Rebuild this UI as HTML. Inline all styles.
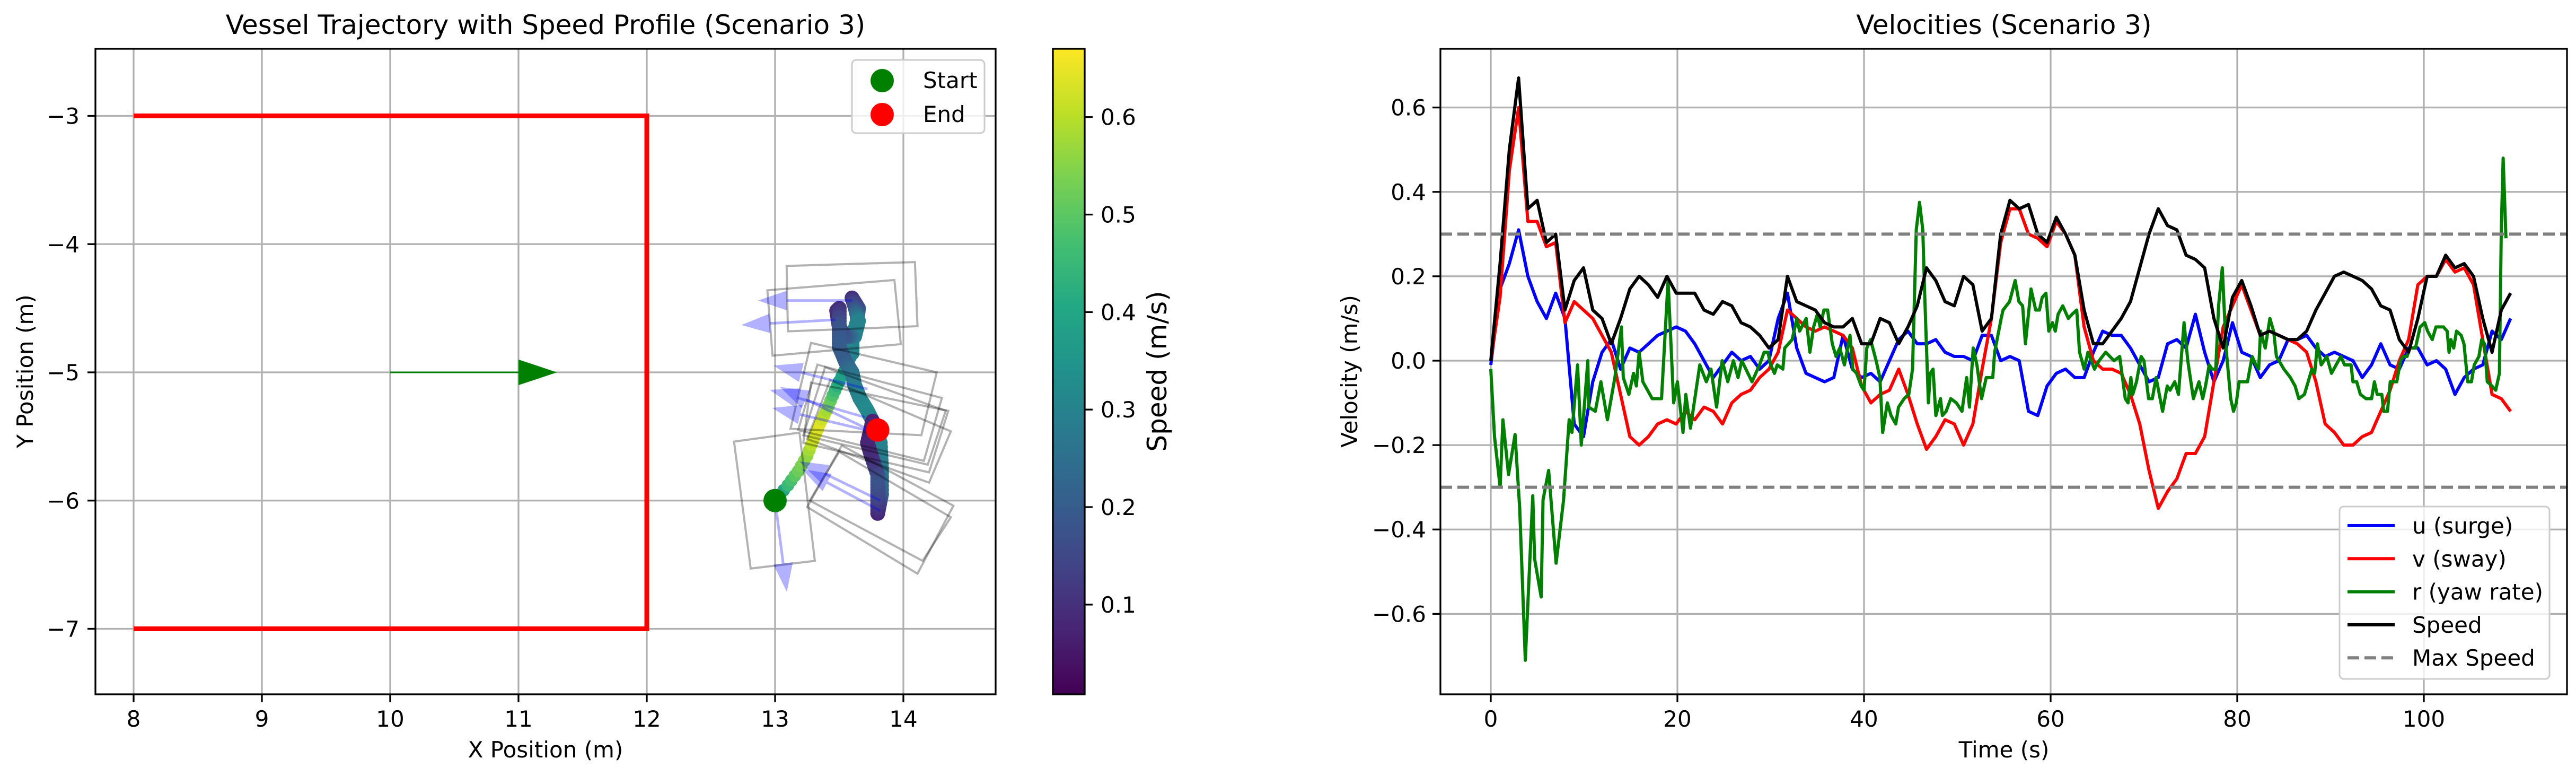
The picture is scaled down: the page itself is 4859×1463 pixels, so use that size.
<!DOCTYPE html>
<html><head><meta charset="utf-8"><style>
html,body{margin:0;padding:0;background:#fff;}
svg{display:block;font-family:"DejaVu Sans","Liberation Sans",sans-serif;}
</style></head><body>
<svg id="fig" width="4859" height="1463" viewBox="0 0 4859 1463" xmlns="http://www.w3.org/2000/svg">
<defs>
<linearGradient id="viridis" x1="0" y1="1" x2="0" y2="0">
<stop offset="0" stop-color="#440154"/><stop offset="0.1" stop-color="#482475"/><stop offset="0.2" stop-color="#414487"/><stop offset="0.3" stop-color="#355f8d"/><stop offset="0.4" stop-color="#2a788e"/><stop offset="0.5" stop-color="#21918c"/><stop offset="0.6" stop-color="#22a884"/><stop offset="0.7" stop-color="#44bf70"/><stop offset="0.8" stop-color="#7ad151"/><stop offset="0.9" stop-color="#bddf26"/><stop offset="1" stop-color="#fde725"/>
</linearGradient>
<clipPath id="clipL"><rect x="180" y="92" width="1698" height="1217"/></clipPath>
<clipPath id="clipR"><rect x="2717" y="92" width="2125" height="1217"/></clipPath>
</defs>
<g id="left"></g>
<g id="cbar"></g>
<g id="right"></g>
</svg>
<script>
// ---------- Trajectory data ----------
const boundaryX = [8, 12, 12, 8];
const boundaryY = [-3, -3, -7, -7];
const trajX = [13,13.1,13.18,13.25,13.3,13.35,13.4,13.45,13.5,13.56,13.6,13.6,13.64,13.65,13.6,13.62,13.65,13.62,13.55,13.5,13.48,13.5,13.5,13.5,13.55,13.6,13.62,13.66,13.72,13.78,13.82,13.83,13.83,13.8,13.8,13.8,13.75,13.72,13.76,13.8];
const trajY = [-6,-5.88,-5.77,-5.65,-5.52,-5.4,-5.3,-5.18,-5.07,-4.95,-4.85,-4.75,-4.6,-4.5,-4.42,-4.48,-4.6,-4.72,-4.72,-4.65,-4.52,-4.5,-4.65,-4.8,-4.92,-5.0,-5.1,-5.2,-5.3,-5.42,-5.55,-5.75,-5.95,-6.1,-5.95,-5.8,-5.65,-5.55,-5.38,-5.45];
const trajSpeed = [0.3,0.45,0.52,0.56,0.62,0.64,0.58,0.48,0.4,0.35,0.3,0.3,0.32,0.2,0.1,0.15,0.3,0.3,0.2,0.15,0.08,0.1,0.18,0.2,0.2,0.25,0.28,0.3,0.32,0.3,0.3,0.28,0.22,0.08,0.15,0.18,0.1,0.08,0.07,0.1];
const boxes = [
 [[13.09,-4.17],[14.09,-4.14],[14.11,-4.64],[13.10,-4.68]],
 [[12.94,-4.36],[13.93,-4.28],[13.98,-4.78],[12.98,-4.87]],
 [[13.28,-4.77],[14.26,-5.0],[14.14,-5.49],[13.12,-5.44]],
 [[13.33,-4.94],[14.3,-5.2],[14.16,-5.69],[13.18,-5.45]],
 [[13.39,-4.96],[14.33,-5.3],[14.19,-5.72],[13.22,-5.49]],
 [[13.43,-5.06],[14.37,-5.46],[14.2,-5.86],[13.25,-5.52]],
 [[13.28,-5.08],[14.35,-5.3],[14.2,-5.78],[13.22,-5.55]],
 [[12.68,-5.54],[13.19,-5.47],[13.31,-6.47],[12.81,-6.53]],
 [[13.25,-6.05],[13.52,-5.57],[14.39,-6.04],[14.11,-6.57]],
 [[13.27,-6.0],[13.5,-5.62],[14.37,-6.13],[14.15,-6.47]]
];
const arrowTail = [[13.6,-4.44],[13.47,-4.59],[13.72,-5.13],[13.7,-5.35],[13.8,-5.48],[13.75,-5.46],[13.0,-6.0],[13.82,-6.0],[13.82,-6.08]];
const arrowTip  = [[12.88,-4.44],[12.75,-4.63],[13.0,-4.95],[12.97,-5.14],[13.05,-5.12],[12.99,-5.28],[13.09,-6.7],[13.2,-5.7],[13.22,-5.76]];
const startPt = [13, -6];
const endPt = [13.8, -5.45];
const xTicksL = [8,9,10,11,12,13,14];
const yTicksL = [-3,-4,-5,-6,-7];
const cbTicks = [0.1,0.2,0.3,0.4,0.5,0.6];

// ---------- Velocity data ----------
const dt = 0.9936;
const uVals = [-0.01,0.17,0.23,0.31,0.2,0.14,0.1,0.16,0.1,-0.15,-0.18,-0.05,0.02,0.05,-0.02,0.03,0.02,0.04,0.06,0.07,0.08,0.07,0.04,0.0,-0.04,-0.01,0.02,0.0,0.01,-0.02,0.0,0.1,0.16,0.03,-0.03,-0.04,-0.05,-0.04,0.06,-0.02,-0.04,-0.03,-0.05,0.0,0.05,0.07,0.04,0.04,0.05,0.02,0.01,0.01,0.0,0.06,0.06,0.0,0.01,0.0,-0.12,-0.13,-0.06,-0.03,-0.02,-0.04,-0.04,0.02,0.07,0.06,0.06,0.03,-0.01,-0.05,-0.04,0.04,0.05,0.03,0.11,0.02,-0.05,0.0,0.09,0.02,0.01,-0.04,-0.01,0.0,0.05,0.05,0.06,0.03,0.01,0.02,0.01,0.0,-0.04,-0.01,0.04,-0.01,-0.02,0.03,0.03,-0.01,0.0,-0.02,-0.08,-0.04,-0.02,-0.01,0.07,0.05,0.1];
const vVals = [0,0.15,0.45,0.6,0.33,0.33,0.27,0.28,0.09,0.14,0.12,0.1,0.06,0.02,-0.08,-0.18,-0.2,-0.18,-0.15,-0.14,-0.15,-0.12,-0.14,-0.11,-0.12,-0.15,-0.1,-0.08,-0.07,-0.04,-0.02,0.02,0.12,0.1,0.08,0.07,0.08,0.07,0.06,0.03,-0.06,-0.1,-0.08,-0.07,-0.02,-0.08,-0.15,-0.21,-0.18,-0.14,-0.15,-0.2,-0.15,-0.02,0.1,0.28,0.36,0.36,0.3,0.29,0.27,0.33,0.3,0.25,0.08,0.0,-0.02,-0.02,-0.03,-0.08,-0.15,-0.26,-0.35,-0.31,-0.28,-0.22,-0.22,-0.18,-0.05,0.08,0.13,0.18,0.12,0.06,0.07,0.06,0.05,0.04,0.02,-0.05,-0.15,-0.17,-0.2,-0.2,-0.18,-0.17,-0.12,-0.07,0.0,0.05,0.18,0.2,0.2,0.24,0.21,0.22,0.18,0.05,-0.08,-0.09,-0.12];
const speedVals = [0.0,0.23,0.5,0.67,0.36,0.38,0.28,0.3,0.12,0.19,0.22,0.12,0.1,0.04,0.1,0.17,0.2,0.18,0.15,0.2,0.16,0.16,0.16,0.12,0.11,0.14,0.13,0.09,0.08,0.06,0.03,0.05,0.2,0.14,0.13,0.12,0.09,0.08,0.08,0.1,0.04,0.04,0.1,0.09,0.04,0.08,0.13,0.22,0.19,0.14,0.13,0.2,0.18,0.07,0.1,0.3,0.38,0.36,0.37,0.3,0.28,0.34,0.3,0.25,0.12,0.04,0.04,0.07,0.1,0.14,0.22,0.3,0.36,0.32,0.31,0.25,0.24,0.22,0.1,0.03,0.15,0.19,0.13,0.06,0.07,0.06,0.05,0.05,0.07,0.12,0.16,0.2,0.21,0.2,0.19,0.17,0.13,0.12,0.05,0.02,0.1,0.2,0.2,0.25,0.22,0.23,0.2,0.1,0.02,0.12,0.16];
const rTimes = [0,0.4,1.0,1.3,1.9,2.6,3.1,3.7,4.5,4.7,5.4,5.6,6.2,7.0,7.8,8.4,8.7,9.3,9.7,10.4,10.5,11.2,11.8,12.5,13.3,14.0,14.2,14.8,15.3,15.6,15.9,16.3,17.3,18.3,19.0,19.6,20.0,20.6,20.9,21.4,22.4,23.1,23.6,24.2,24.8,25.4,26.0,26.5,26.9,28.0,28.8,29.3,29.7,30,30.4,30.7,31.3,31.5,32.3,32.8,33.1,33.8,34.2,34.6,35.0,35.3,35.7,36.1,36.6,37.0,37.4,37.9,38.5,38.8,39.2,39.7,40.0,40.3,40.7,41.3,41.7,42.0,42.5,42.9,43.4,43.7,44.3,44.8,45.2,45.6,45.95,46.3,46.5,46.9,47.1,47.4,47.7,48.2,48.4,48.8,49.3,49.9,50.5,51.0,51.3,51.7,52.1,52.6,53.1,53.8,54.0,54.7,54.9,55.6,56.2,56.6,57.0,57.3,57.9,58.4,58.8,59.1,59.5,59.8,60.2,60.5,60.8,61.3,61.9,62.3,62.8,63.1,63.6,64.0,64.7,65.2,65.9,66.8,67.4,68.0,68.3,68.6,68.8,69.2,69.7,70.0,70.5,70.9,71.3,72.0,72.5,72.8,73.3,73.7,74.3,74.7,75.3,75.9,76.3,76.6,77.0,77.3,77.7,78.0,78.4,78.8,79.3,79.6,79.9,80.2,80.6,81.1,81.6,82.0,82.3,82.5,83.0,83.5,83.9,84.2,85.0,85.7,86.2,86.6,87.2,87.6,88.0,88.3,88.6,89.0,89.6,90.1,90.6,91.1,91.5,92.2,92.4,92.8,93.2,93.8,94.4,94.7,95.0,95.5,95.7,96.1,96.4,97.1,97.5,97.8,98.2,98.5,99.1,99.6,100.1,100.4,100.9,101.3,102.1,102.5,102.7,102.9,103.2,103.5,104.0,104.3,104.7,105.1,105.4,105.9,106.2,106.5,106.8,107.3,107.7,108.1,108.3,108.5,108.8];
const rVals = [-0.02,-0.18,-0.30,-0.14,-0.27,-0.175,-0.35,-0.71,-0.32,-0.47,-0.56,-0.33,-0.26,-0.48,-0.33,-0.14,-0.17,-0.01,-0.2,0.0,-0.11,-0.12,-0.05,-0.14,-0.04,0.08,-0.04,-0.08,-0.03,-0.06,0.02,-0.05,-0.09,-0.09,0.19,-0.1,-0.05,-0.17,-0.08,-0.16,-0.01,-0.05,-0.02,-0.11,0.0,-0.05,0.0,-0.04,0.0,-0.05,-0.01,0.02,0.02,-0.01,-0.03,-0.01,-0.02,0.03,0.05,0.1,0.07,0.1,0.02,0.08,0.11,0.08,0.12,0.12,0.04,0.01,0.03,-0.01,0.06,-0.02,-0.03,-0.06,-0.07,0.03,0.05,0.0,-0.04,-0.17,-0.1,-0.13,-0.15,-0.11,-0.09,-0.08,-0.02,0.31,0.375,0.31,0.16,-0.1,-0.03,-0.02,-0.13,-0.09,-0.13,-0.12,-0.09,-0.1,-0.12,-0.04,-0.11,0.03,-0.01,-0.09,-0.04,-0.04,0.02,0.1,0.12,0.14,0.19,0.14,0.13,0.04,0.17,0.12,0.12,0.15,0.16,0.07,0.09,0.07,0.11,0.13,0.1,0.11,0.12,0.02,-0.02,0.02,-0.02,0.0,0.02,0.0,0.01,-0.09,-0.1,-0.04,-0.08,-0.05,0.01,0.0,-0.09,-0.09,-0.04,-0.12,-0.06,-0.07,-0.05,-0.08,0.09,0.0,-0.09,-0.05,-0.09,-0.06,-0.01,-0.02,-0.02,0.13,0.22,0.03,-0.09,-0.12,-0.1,-0.05,-0.05,-0.05,0.01,-0.01,-0.02,0.07,0.03,0.1,0.07,0.01,-0.02,-0.04,-0.06,-0.09,-0.08,-0.05,-0.02,-0.03,0.04,-0.01,0.01,-0.03,-0.01,0.01,-0.01,-0.01,-0.05,-0.05,-0.08,-0.09,-0.09,-0.05,-0.08,-0.08,-0.12,-0.12,-0.05,-0.05,0.0,0.01,0.01,0.03,0.03,0.08,0.09,0.07,0.05,0.08,0.08,0.07,0.02,0.05,0.03,0.07,0.06,0.04,-0.05,-0.05,-0.01,0.01,0.05,0.04,-0.05,-0.06,-0.07,-0.03,0.31,0.48,0.29];
const maxSpeed = 0.3;
const xTicksR = [0,20,40,60,80,100];
const yTicksR = [-0.6,-0.4,-0.2,0.0,0.2,0.4,0.6];

// ---------- helpers ----------
const NS = 'http://www.w3.org/2000/svg';
function mk(tag, attrs, parent){ const e=document.createElementNS(NS,tag); for(const k in attrs) e.setAttribute(k,attrs[k]); parent.appendChild(e); return e; }
const LX = x => 252 + (x-8)*242;
const LY = y => 218.5 + (-3-y)*241.75;
const RX = t => 2812 + t*17.6;
const RY = v => 680 - v*795.6;
const CY = s => 1309 - (s-0.008)/0.662*1217;
const vir = ['#440154','#482475','#414487','#355f8d','#2a788e','#21918c','#22a884','#44bf70','#7ad151','#bddf26','#fde725'];
function hex(h){return [parseInt(h.substr(1,2),16),parseInt(h.substr(3,2),16),parseInt(h.substr(5,2),16)];}
function viridis(s){ let t=(s-0.008)/0.662; t=Math.max(0,Math.min(1,t)); const p=t*10; const i=Math.min(9,Math.floor(p)); const f=p-i; const a=hex(vir[i]), b=hex(vir[i+1]); return 'rgb('+a.map((c,k)=>Math.round(c+(b[k]-c)*f)).join(',')+')'; }

const L = document.getElementById('left');
const R = document.getElementById('right');
const C = document.getElementById('cbar');

// ---------- LEFT PLOT ----------
let e;
const gridL = mk('g',{},L);


xTicksL.forEach(x=>{ e=mk('line',{x1:LX(x),x2:LX(x),y1:92,y2:1309,stroke:'#b0b0b0','stroke-width':3.3},gridL);
 
  });
yTicksL.forEach(y=>{ e=mk('line',{x1:180,x2:1878,y1:LY(y),y2:LY(y),stroke:'#b0b0b0','stroke-width':3.3},gridL);
 
  });
const plotL = mk('g',{'clip-path':'url(#clipL)'},L);


e = mk('polyline',{points:boundaryX.map((x,i)=>LX(x)+','+LY(boundaryY[i])).join(' '),fill:'none',stroke:'#ff0000','stroke-width':9},plotL);


e = mk('line',{x1:LX(10),y1:LY(-5),x2:LX(11),y2:LY(-5),stroke:'#008000','stroke-width':3},plotL);


e = mk('polygon',{points:[LX(11)+','+LY(-4.9),LX(11.3)+','+LY(-5),LX(11)+','+LY(-5.1)].join(' '),fill:'#008000'},plotL);


const trajG = mk('g',{},plotL);


for(let i=0;i<trajX.length;i++){
  const n = (i<10)?3:6;
  for(let k=0;k<n;k++){
    const j=Math.min(i+1,trajX.length-1); const f=k/n;
    if(i===trajX.length-1 && k>0) break;
    const x=trajX[i]+(trajX[j]-trajX[i])*f, y=trajY[i]+(trajY[j]-trajY[i])*f, s=trajSpeed[i]+(trajSpeed[j]-trajSpeed[i])*f;
    e = mk('circle',{cx:LX(x),cy:LY(y),r:i<10?12:14,fill:viridis(s)},trajG);
    
    
  }
}
boxes.forEach(b=>{ e=mk('polygon',{points:b.map(p=>LX(p[0])+','+LY(p[1])).join(' '),fill:'none',stroke:'#000','stroke-opacity':0.3,'stroke-width':4},plotL);
 
  });
arrowTail.forEach((tl,i)=>{
  const tp=arrowTip[i]; const x0=LX(tl[0]),y0=LY(tl[1]),x1=LX(tp[0]),y1=LY(tp[1]);
  const dx=x1-x0, dy=y1-y0, len=Math.hypot(dx,dy), ux=dx/len, uy=dy/len;
  const hl=50, hw=17; const bx=x1-ux*hl, by=y1-uy*hl;
  const g=mk('g',{opacity:0.3},plotL);
  
  
  mk('line',{x1:x0,y1:y0,x2:bx,y2:by,stroke:'#0000ff','stroke-width':5},g);
  mk('polygon',{points:[x1+','+y1,(bx-uy*hw)+','+(by+ux*hw),(bx+uy*hw)+','+(by-ux*hw)].join(' '),fill:'#0000ff',stroke:'#0000ff','stroke-width':2},g);
});
e = mk('ellipse',{cx:LX(startPt[0]),cy:LY(startPt[1]),rx:22,ry:22,fill:'#008000'},plotL);


e = mk('ellipse',{cx:LX(endPt[0]),cy:LY(endPt[1]),rx:22,ry:22,fill:'#ff0000'},plotL);


e = mk('rect',{x:180,y:92,width:1698,height:1217,fill:'none',stroke:'#000','stroke-width':3.3},L);


xTicksL.forEach(x=>{ mk('line',{x1:LX(x),x2:LX(x),y1:1309,y2:1324,stroke:'#000','stroke-width':3.3},L);
 e=mk('text',{x:LX(x),y:1370,'font-size':42,'text-anchor':'middle'},L); e.textContent=String(x);
 
  });
yTicksL.forEach(y=>{ mk('line',{x1:165,x2:180,y1:LY(y),y2:LY(y),stroke:'#000','stroke-width':3.3},L);
 e=mk('text',{x:150,y:LY(y)+15,'font-size':42,'text-anchor':'end'},L); e.textContent='\u2212'+Math.abs(y);
 
  });
e=mk('text',{x:1029,y:64,'font-size':50,'text-anchor':'middle'},L); e.textContent='Vessel Trajectory with Speed Profile (Scenario 3)';


e=mk('text',{x:1029,y:1428,'font-size':42,'text-anchor':'middle'},L); e.textContent='X Position (m)';


e=mk('text',{x:0,y:0,'font-size':42,'text-anchor':'middle',transform:'translate(62,700) rotate(-90)'},L); e.textContent='Y Position (m)';


const lg = mk('g',{},L);


mk('rect',{x:1607,y:113,width:250,height:138,rx:8,fill:'#fff','fill-opacity':0.8,stroke:'#cccccc','stroke-width':3},lg);
e=mk('circle',{cx:1664,cy:152,r:22,fill:'#008000'},lg);


e=mk('text',{x:1741,y:166,'font-size':42},lg); e.textContent='Start';


e=mk('circle',{cx:1664,cy:216,r:22,fill:'#ff0000'},lg);


e=mk('text',{x:1741,y:230,'font-size':42},lg); e.textContent='End';



// ---------- COLORBAR ----------
e=mk('rect',{x:1986,y:92,width:60,height:1217,fill:'url(#viridis)',stroke:'#000','stroke-width':3.3},C);


cbTicks.forEach(s=>{ mk('line',{x1:2046,x2:2061,y1:CY(s),y2:CY(s),stroke:'#000','stroke-width':3.3},C);
 e=mk('text',{x:2076,y:CY(s)+15,'font-size':42},C); e.textContent=s.toFixed(1);
 
  });
e=mk('text',{x:0,y:0,'font-size':50,'text-anchor':'middle',transform:'translate(2200,700) rotate(-90)'},C); e.textContent='Speed (m/s)';



// ---------- RIGHT PLOT ----------
const gridR = mk('g',{},R);


xTicksR.forEach(t=>{ e=mk('line',{x1:RX(t),x2:RX(t),y1:92,y2:1309,stroke:'#b0b0b0','stroke-width':3.3},gridR);
 
  });
yTicksR.forEach(v=>{ e=mk('line',{x1:2717,x2:4842,y1:RY(v),y2:RY(v),stroke:'#b0b0b0','stroke-width':3.3},gridR);
 
  });
const plotR = mk('g',{'clip-path':'url(#clipR)'},R);


function seriesPts(vals){ return vals.map((v,i)=>RX(i*dt)+','+RY(v)).join(' '); }
e=mk('polyline',{points:seriesPts(uVals),fill:'none',stroke:'#0000ff','stroke-width':6,'stroke-linejoin':'round'},plotR);


e=mk('polyline',{points:seriesPts(vVals),fill:'none',stroke:'#ff0000','stroke-width':6,'stroke-linejoin':'round'},plotR);


e=mk('polyline',{points:rTimes.map((t,i)=>RX(t)+','+RY(rVals[i])).join(' '),fill:'none',stroke:'#008000','stroke-width':6,'stroke-linejoin':'round'},plotR);


e=mk('polyline',{points:seriesPts(speedVals),fill:'none',stroke:'#000','stroke-width':6,'stroke-linejoin':'round'},plotR);


e=mk('line',{x1:2717,x2:4842,y1:RY(maxSpeed),y2:RY(maxSpeed),stroke:'#808080','stroke-width':6,'stroke-dasharray':'22 10'},plotR);


e=mk('line',{x1:2717,x2:4842,y1:RY(-maxSpeed),y2:RY(-maxSpeed),stroke:'#808080','stroke-width':6,'stroke-dasharray':'22 10'},plotR);


e = mk('rect',{x:2717,y:92,width:2125,height:1217,fill:'none',stroke:'#000','stroke-width':3.3},R);


xTicksR.forEach(t=>{ mk('line',{x1:RX(t),x2:RX(t),y1:1309,y2:1324,stroke:'#000','stroke-width':3.3},R);
 e=mk('text',{x:RX(t),y:1370,'font-size':42,'text-anchor':'middle'},R); e.textContent=String(t);
 
  });
yTicksR.forEach(v=>{ mk('line',{x1:2702,x2:2717,y1:RY(v),y2:RY(v),stroke:'#000','stroke-width':3.3},R);
 e=mk('text',{x:2690,y:RY(v)+15,'font-size':42,'text-anchor':'end'},R); e.textContent=(v<0?'\u2212':'')+Math.abs(v).toFixed(1);
 
  });
e=mk('text',{x:3780,y:64,'font-size':50,'text-anchor':'middle'},R); e.textContent='Velocities (Scenario 3)';


e=mk('text',{x:3780,y:1428,'font-size':42,'text-anchor':'middle'},R); e.textContent='Time (s)';


e=mk('text',{x:0,y:0,'font-size':42,'text-anchor':'middle',transform:'translate(2560,700) rotate(-90)'},R); e.textContent='Velocity (m/s)';


const lgR = mk('g',{},R);


mk('rect',{x:4413,y:955,width:396,height:325,rx:8,fill:'#fff','fill-opacity':0.8,stroke:'#cccccc','stroke-width':3},lgR);
const legNames = ['u (surge)','v (sway)','r (yaw rate)','Speed','Max Speed'];
const legColors = ['#0000ff','#ff0000','#008000','#000000','#808080'];
legNames.forEach((n,i)=>{
  const y = 991 + i*62.3;
  e=mk('line',{x1:4428,x2:4517,y1:y,y2:y,stroke:legColors[i],'stroke-width':6,'stroke-dasharray':i===4?'22 10':'none'},lgR);
  
  
  e=mk('text',{x:4550,y:y+15,'font-size':42},lgR); e.textContent=n;
  
  
});
</script>
</body></html>
